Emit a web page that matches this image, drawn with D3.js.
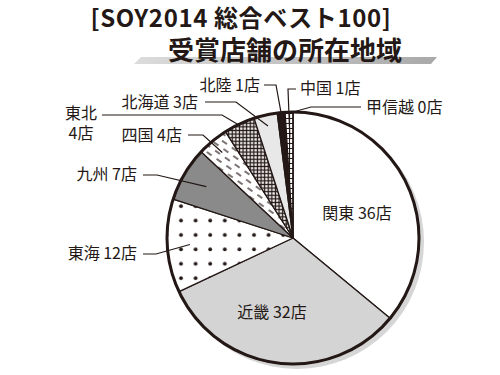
<!DOCTYPE html>
<html>
<head>
<meta charset="utf-8">
<script src="https://cdn.jsdelivr.net/npm/d3@7"></script>
<style>
  body { margin: 0; background: #fff; }
  text { font-family: "Noto Sans CJK JP", "Noto Sans", sans-serif; fill: #231815; }
</style>
</head>
<body>
<div id="chart"></div>
<script>
// data
const regions = ['関東', '近畿', '東海', '九州', '四国', '東北', '北海道', '北陸', '中国', '甲信越']
const counts = [36, 32, 12, 7, 4, 4, 3, 1, 1, 0]
const titleLines = ['[SOY2014 総合ベスト100]', '受賞店舗の所在地域']

const width = 500,
  height = 375,
  cx = 293,
  cy = 238,
  radius = 126,
  ink = '#231815'

const svg = d3.select('#chart')
  .append('svg')
  .attr('width', width)
  .attr('height', height)

// patterns
const defs = svg.append('defs')

const dots = defs.append('pattern')
  .attr('id', 'dots')
  .attr('patternUnits', 'userSpaceOnUse')
  .attr('width', 14.6).attr('height', 14.4)
  .attr('x', 173).attr('y', 206)
dots.append('rect').attr('width', 14.6).attr('height', 14.4).attr('fill', '#fff')
dots.append('circle').attr('cx', 7).attr('cy', 7).attr('r', 1.9).attr('fill', ink)

const checker = defs.append('pattern')
  .attr('id', 'checker')
  .attr('patternUnits', 'userSpaceOnUse')
  .attr('width', 3.6).attr('height', 3.6)
checker.append('rect').attr('width', 3.6).attr('height', 3.6).attr('fill', ink)
checker.append('rect').attr('x', 1.1).attr('y', 1.1).attr('width', 2.3).attr('height', 2.3).attr('fill', '#fff')

const dashes = defs.append('pattern')
  .attr('id', 'dashes')
  .attr('patternUnits', 'userSpaceOnUse')
  .attr('width', 12).attr('height', 12)
  .attr('patternTransform', 'rotate(35)')
dashes.append('rect').attr('width', 12).attr('height', 12).attr('fill', '#fff')
dashes.append('line').attr('x1', 0).attr('x2', 6).attr('y1', 3).attr('y2', 3)
  .attr('stroke', ink).attr('stroke-width', 1.2)
dashes.append('line').attr('x1', 6).attr('x2', 12).attr('y1', 9).attr('y2', 9)
  .attr('stroke', ink).attr('stroke-width', 1.2)

const ladder = defs.append('pattern')
  .attr('id', 'ladder')
  .attr('patternUnits', 'userSpaceOnUse')
  .attr('width', 6).attr('height', 5)
  .attr('x', 284)
ladder.append('rect').attr('width', 6).attr('height', 5).attr('fill', '#fff')
ladder.append('line').attr('x1', 0.5).attr('x2', 0.5).attr('y1', 0).attr('y2', 5)
  .attr('stroke', ink).attr('stroke-width', 1.2)
ladder.append('line').attr('x1', 0).attr('x2', 6).attr('y1', 0.5).attr('y2', 0.5)
  .attr('stroke', ink).attr('stroke-width', 1)

const fills = ['#ffffff', '#d4d4d4', 'url(#dots)', '#8a8a8a', 'url(#dashes)',
  'url(#checker)', '#e8e8e8', ink, 'url(#ladder)', '#ffffff']

// title
const grad = defs.append('linearGradient').attr('id', 'bar')
grad.append('stop').attr('offset', '0%').attr('stop-color', '#dcdcdc')
grad.append('stop').attr('offset', '100%').attr('stop-color', '#a9a9a9')

svg.append('polygon')
  .attr('points', '141,57 437,57 431,64 134,64')
  .attr('fill', 'url(#bar)')

svg.append('text')
  .attr('x', 241).attr('y', 27)
  .attr('text-anchor', 'middle')
  .style('font-size', '24px').style('font-weight', 700)
  .style('letter-spacing', '0.6px')
  .text(titleLines[0])

svg.append('text')
  .attr('x', 285).attr('y', 60)
  .attr('text-anchor', 'middle')
  .style('font-size', '26px').style('font-weight', 700)
  .text(titleLines[1])

// pie
const pie = d3.pie().sort(null).value(d => d)
const arcs = pie(counts)
const arc = d3.arc().innerRadius(0).outerRadius(radius)

const g = svg.append('g').attr('transform', `translate(${cx},${cy})`)

g.append('circle')
  .attr('cx', 4).attr('cy', 4).attr('r', radius + 1)
  .attr('fill', '#d6d6d6')

g.selectAll('path.slice')
  .data(arcs)
  .enter()
  .append('path')
  .attr('class', 'slice')
  .attr('d', arc)
  .attr('fill', (d, i) => fills[i])
  .attr('stroke', ink)
  .attr('stroke-width', 1.3)
  .attr('stroke-linejoin', 'round')

g.append('circle')
  .attr('r', radius)
  .attr('fill', 'none')
  .attr('stroke', ink)
  .attr('stroke-width', 3)

// labels
const labelOf = i => `${regions[i]} ${counts[i]}店`

// inside labels
const inside = [
  { i: 0, x: 357, y: 219 },
  { i: 1, x: 272, y: 318 }
]
inside.forEach(p => {
  svg.append('text')
    .attr('x', p.x).attr('y', p.y)
    .attr('text-anchor', 'middle')
    .style('font-size', '16px')
    .text(labelOf(p.i))
})

// outside labels with leader lines
const outside = [
  { i: 2, x: 137, y: 259, anchor: 'end', line: [[143, 254], [156, 254]], rf: 0.82 },
  { i: 3, x: 137, y: 180, anchor: 'end', line: [[143, 175], [157, 175]], rf: 0.8 },
  { i: 4, x: 182, y: 141, anchor: 'end', line: [[188, 135], [203, 135]], rf: 0.88 },
  { i: 5, x: 81, y: 119, anchor: 'middle', line: [[102, 115], [222, 115]], rf: 0.985, split: true },
  { i: 6, x: 198, y: 108, anchor: 'end', line: [[205, 102], [236, 102]], rf: 0.91 },
  { i: 7, x: 260, y: 91, anchor: 'end', line: [[264, 85], [276, 85]], rf: 0.99 },
  { i: 8, x: 300, y: 94, anchor: 'start', line: [[296, 89], [288, 89]], rf: 0.8 },
  { i: 9, x: 366, y: 113, anchor: 'start', line: [[361, 107], [311, 107]], rf: 1.0 }
]

outside.forEach(p => {
  const d = arcs[p.i]
  const mid = (d.startAngle + d.endAngle) / 2
  const end = d3.pointRadial(mid, radius * p.rf)
  const pts = p.line.concat([[cx + end[0], cy + end[1]]])
  svg.append('path')
    .attr('d', d3.line()(pts))
    .attr('fill', 'none')
    .attr('stroke', ink)
    .attr('stroke-width', 1.2)

  if (p.split) {
    const t = svg.append('text')
      .attr('text-anchor', p.anchor)
      .style('font-size', '16px')
    t.append('tspan').attr('x', p.x).attr('y', p.y).text(regions[p.i])
    t.append('tspan').attr('x', p.x).attr('y', p.y + 20).text(`${counts[p.i]}店`)
  } else {
    svg.append('text')
      .attr('x', p.x).attr('y', p.y)
      .attr('text-anchor', p.anchor)
      .style('font-size', '16px')
      .text(labelOf(p.i))
  }
})
</script>
</body>
</html>
